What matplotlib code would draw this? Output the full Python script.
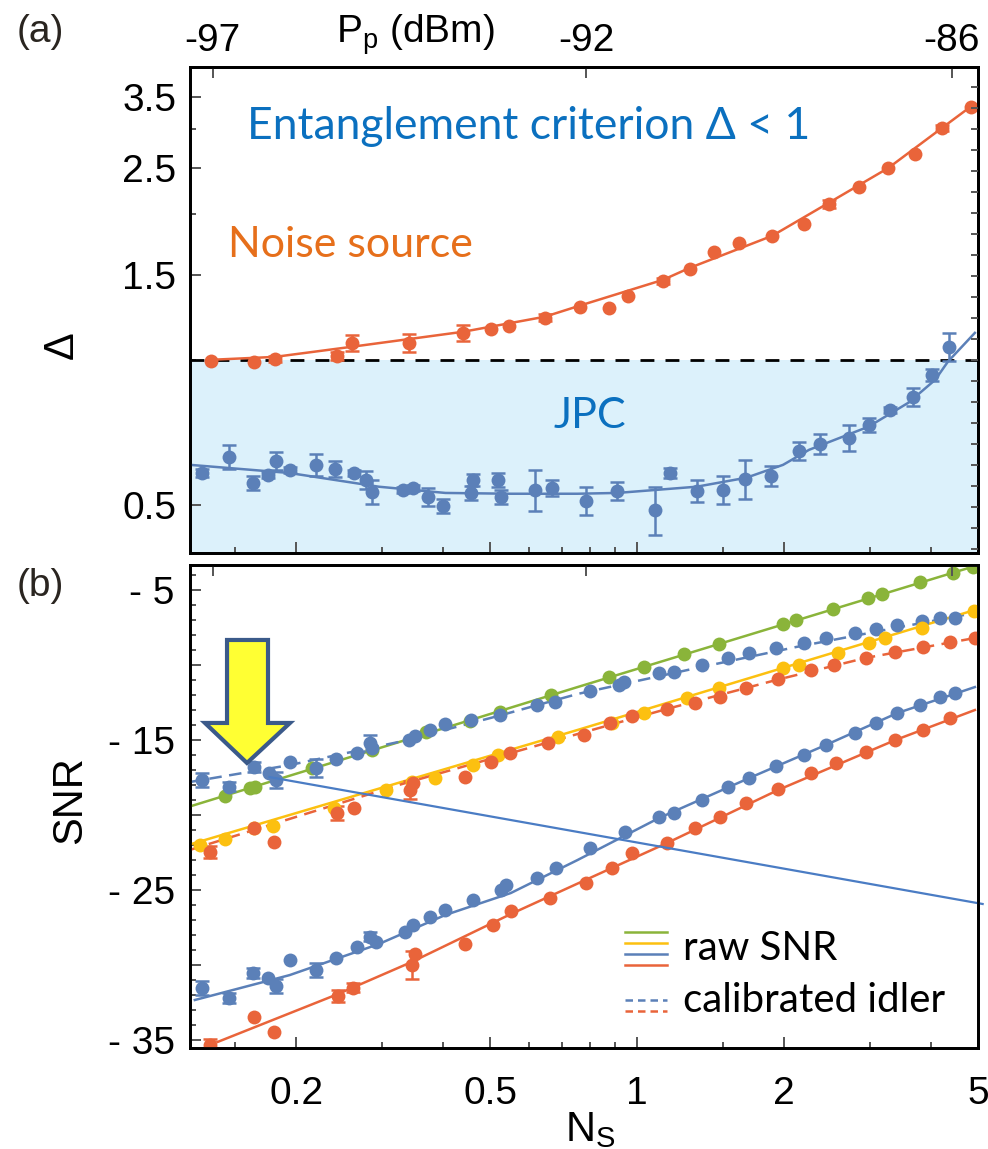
import numpy as np
import matplotlib
matplotlib.use('Agg')
import matplotlib.pyplot as plt
from matplotlib.patches import Polygon
from matplotlib.ticker import FixedLocator, NullFormatter, NullLocator, MultipleLocator, FuncFormatter

# ---------------- panel (a): Delta vs N_S ----------------
noise_ns = [0.134, 0.164, 0.181, 0.243, 0.260, 0.340, 0.440, 0.502, 0.546, 0.647, 0.765, 0.877, 0.959,
            1.130, 1.282, 1.435, 1.621, 1.892, 2.198, 2.472, 2.846, 3.276, 3.718, 4.220, 4.834]
noise_delta = [0.995, 0.990, 1.005, 1.019, 1.084, 1.084, 1.137, 1.159, 1.176, 1.222, 1.287, 1.281, 1.357,
               1.457, 1.543, 1.673, 1.747, 1.806, 1.912, 2.104, 2.281, 2.498, 2.670, 3.022, 3.341]
noise_err = [0, 0, 0.015, 0.02, 0.042, 0.047, 0.044, 0, 0, 0.02, 0, 0, 0,
             0.02, 0, 0, 0, 0, 0, 0.04, 0, 0, 0, 0.04, 0]
noise_fit_ns = [0.134, 0.181, 0.260, 0.440, 0.647, 0.773, 1.130, 1.282, 1.892, 2.472, 3.276, 4.220, 4.880]
noise_fit_delta = [1.000, 1.014, 1.064, 1.143, 1.228, 1.300, 1.464, 1.550, 1.806, 2.114, 2.497, 3.022, 3.370]

jpc_ns = [0.128, 0.146, 0.163, 0.175, 0.182, 0.194, 0.220, 0.240, 0.263, 0.278, 0.286, 0.332, 0.348,
          0.372, 0.401, 0.457, 0.461, 0.519, 0.526, 0.617, 0.668, 0.784, 0.911, 1.088, 1.167, 1.325,
          1.497, 1.667, 1.884, 2.148, 2.370, 2.716, 2.982, 3.306, 3.683, 4.027, 4.361]
jpc_delta = [0.583, 0.630, 0.556, 0.578, 0.618, 0.592, 0.606, 0.595, 0.583, 0.565, 0.533, 0.538, 0.543,
             0.520, 0.499, 0.530, 0.565, 0.565, 0.520, 0.538, 0.543, 0.511, 0.536, 0.489, 0.583, 0.536,
             0.538, 0.567, 0.575, 0.648, 0.670, 0.690, 0.734, 0.788, 0.838, 0.931, 1.064]
jpc_err = [0.011, 0.036, 0.019, 0.008, 0.027, 0.009, 0.032, 0.023, 0.008, 0.024, 0.031, 0.008, 0.008,
           0.022, 0.017, 0.018, 0.016, 0.019, 0.017, 0.052, 0.021, 0.034, 0.023, 0.056, 0.014, 0.028,
           0.036, 0.052, 0.028, 0.028, 0.032, 0.043, 0.025, 0.011, 0.036, 0.027, 0.072]
jpc_fit_ns = [0.1212, 0.1937, 0.2955, 0.4047, 0.5511, 0.7548, 0.9105, 1.325, 1.676, 1.992, 2.252,
              2.982, 3.600, 4.085, 4.337, 4.926]
jpc_fit_delta = [0.606, 0.583, 0.546, 0.530, 0.528, 0.528, 0.530, 0.546, 0.570, 0.606, 0.651,
                 0.727, 0.815, 0.909, 0.991, 1.137]

pump_ticks_ns = [0.135, 0.787, 4.42]
pump_labels = ['-97', '-92', '-86']

# ---------------- panel (b): SNR vs N_S ----------------
green_ns = [0.143, 0.161, 0.165, 0.216, 0.286, 0.370, 0.455, 0.524, 0.665, 0.877, 1.033, 1.247, 1.469,
            1.992, 2.118, 2.519, 2.968, 3.184, 3.806, 4.443, 4.880]
green_snr = [-18.73, -18.20, -18.13, -16.87, -15.67, -14.47, -13.73, -13.13, -12.00, -10.80, -10.13,
             -9.27, -8.60, -7.27, -7.00, -6.27, -5.53, -5.27, -4.47, -3.87, -3.47]
green_err = [0] * len(green_ns)
green_fit_ns = [0.120, 0.755, 4.93]
green_fit_snr = [-19.47, -11.47, -3.40]

calhi_ns = [0.128, 0.146, 0.164, 0.176, 0.182, 0.194, 0.220, 0.2415, 0.2665, 0.283, 0.286, 0.340, 0.351,
            0.377, 0.404, 0.457, 0.524, 0.623, 0.678, 0.799, 0.919, 0.941, 1.109, 1.190, 1.356, 1.539,
            1.699, 1.928, 2.198, 2.438, 2.793, 3.082, 3.417, 3.842, 4.180, 4.485]
calhi_snr = [-17.67, -18.13, -16.80, -17.20, -17.67, -16.47, -16.87, -16.27, -15.87, -15.20, -15.53,
             -15.00, -14.73, -14.33, -13.93, -13.67, -13.33, -12.67, -12.47, -11.73, -11.33, -11.13,
             -10.53, -10.47, -10.00, -9.53, -9.20, -8.87, -8.53, -8.20, -7.87, -7.60, -7.33, -7.07,
             -6.87, -6.87]
calhi_err = [0.45, 0.3, 0.35, 0, 0.55, 0, 0.6, 0, 0, 0.55, 0, 0, 0,
             0, 0, 0, 0, 0, 0, 0, 0, 0, 0, 0, 0, 0,
             0, 0, 0, 0, 0, 0, 0, 0, 0, 0]
calhi_fit_ns = [0.121, 0.194, 0.3245, 0.5187, 0.755, 1.325, 2.118, 3.385, 4.926]
calhi_fit_snr = [-17.80, -16.67, -15.13, -13.40, -11.93, -10.20, -8.80, -7.53, -6.53]

yellow_ns = [0.127, 0.143, 0.164, 0.179, 0.239, 0.305, 0.345, 0.386, 0.461, 0.519, 0.687, 0.889, 1.033,
             1.264, 1.469, 1.992, 2.148, 2.579, 2.982, 3.229, 3.842, 4.900]
yellow_snr = [-22.00, -21.60, -20.87, -20.73, -19.53, -18.33, -17.80, -17.53, -16.67, -16.00, -14.80,
              -13.87, -13.20, -12.20, -11.53, -10.20, -10.00, -9.20, -8.53, -8.20, -7.53, -6.40]
yellow_err = [0] * len(yellow_ns)
yellow_fit_ns = [0.120, 0.755, 4.926]
yellow_fit_snr = [-22.00, -14.33, -6.33]

callo_ns = [0.133, 0.164, 0.1805, 0.243, 0.263, 0.343, 0.348, 0.444, 0.502, 0.549, 0.656, 0.780, 0.881,
            0.977, 1.151, 1.313, 1.476, 1.675, 1.946, 2.272, 2.531, 2.940, 3.385, 3.860, 4.381, 4.926]
callo_snr = [-22.47, -20.87, -21.80, -19.87, -19.53, -18.33, -17.87, -17.47, -16.47, -15.87, -15.20,
             -14.67, -13.87, -13.40, -12.93, -12.53, -12.13, -11.53, -10.93, -10.33, -10.00, -9.53,
             -9.13, -8.80, -8.47, -8.20]
callo_err = [0.4, 0, 0, 0.45, 0, 0.6, 0, 0, 0, 0, 0, 0, 0,
             0, 0, 0, 0, 0, 0, 0, 0, 0, 0, 0, 0, 0]
callo_fit_ns = [0.121, 0.3245, 0.755, 1.151, 1.928, 2.94, 4.926]
callo_fit_snr = [-22.33, -18.00, -14.60, -12.93, -11.00, -9.53, -8.20]

bluelo_ns = [0.128, 0.146, 0.163, 0.175, 0.182, 0.194, 0.220, 0.2415, 0.2665, 0.283, 0.291, 0.335, 0.348,
             0.377, 0.404, 0.461, 0.526, 0.5385, 0.623, 0.681, 0.799, 0.945, 1.109, 1.190, 1.356, 1.539,
             1.699, 1.928, 2.198, 2.438, 2.793, 3.096, 3.417, 3.806, 4.180, 4.485]
bluelo_snr = [-31.53, -32.20, -30.53, -30.87, -31.40, -29.67, -30.33, -29.53, -28.80, -28.13, -28.47,
              -27.80, -27.33, -26.80, -26.33, -25.67, -25.00, -24.67, -24.20, -23.53, -22.20, -21.13,
              -20.13, -19.87, -19.00, -18.13, -17.53, -16.73, -16.00, -15.33, -14.53, -13.87, -13.20,
              -12.67, -12.13, -11.87]
bluelo_err = [0.45, 0.35, 0.35, 0, 0.45, 0, 0.45, 0, 0, 0.3, 0, 0, 0,
              0, 0, 0, 0, 0, 0, 0, 0, 0, 0, 0, 0, 0,
              0, 0, 0, 0, 0, 0, 0, 0, 0, 0]
bluelo_fit_ns = [0.124, 0.194, 0.2955, 0.404, 0.551, 0.755, 1.109, 1.699, 2.438, 3.417, 4.926]
bluelo_fit_snr = [-32.33, -30.67, -28.60, -26.67, -25.20, -23.00, -20.20, -17.53, -15.33, -13.20, -11.47]

orlo_ns = [0.133, 0.164, 0.1805, 0.244, 0.2615, 0.345, 0.350, 0.444, 0.507, 0.551, 0.662, 0.784, 0.889,
           0.977, 1.151, 1.313, 1.476, 1.675, 1.946, 2.272, 2.555, 2.940, 3.385, 3.860, 4.381]
orlo_snr = [-35.33, -33.47, -34.47, -32.07, -31.53, -30.00, -29.27, -28.60, -27.33, -26.40, -25.53,
            -24.53, -23.53, -22.53, -21.87, -20.87, -20.13, -19.20, -18.27, -17.20, -16.53, -15.80,
            -15.00, -14.33, -13.53]
orlo_err = [0.4, 0, 0, 0.4, 0.3, 0.95, 0, 0, 0, 0, 0, 0, 0,
            0, 0, 0, 0, 0, 0, 0, 0, 0, 0, 0, 0]
orlo_fit_ns = [0.138, 0.2438, 0.3449, 0.5511, 0.7837, 1.151, 1.946, 3.385, 4.926]
orlo_fit_snr = [-35.13, -31.93, -29.80, -26.60, -24.33, -21.87, -18.33, -15.00, -13.00]

cross_ns = [0.1764, 5.11]
cross_snr = [-17.47, -25.93]

ORANGE = '#E9643A'
BLUE = '#5B80B8'
GREEN = '#8AB43A'
YELLOW = '#FCC010'
LINE_BLUE = '#4A7CC4'
TXT_BLUE = '#0B70BF'
TXT_ORANGE = '#E66F1B'
SHADE = '#DCF1FB'
TICK = '#555555'

plt.rcParams['font.family'] = ['Liberation Sans', 'DejaVu Sans']
plt.rcParams['mathtext.default'] = 'regular'

XMIN, XMAX = 0.1212, 5.0
major_x = [0.2, 0.5, 1, 2, 5]
minor_x = [0.15, 0.3, 0.4, 0.6, 0.7, 0.8, 0.9, 1.5, 3, 4]


def style_x(ax, labels):
    ax.set_xscale('log')
    ax.set_xlim(XMIN, XMAX)
    ax.xaxis.set_major_locator(FixedLocator(major_x))
    ax.xaxis.set_minor_locator(FixedLocator(minor_x))
    ax.xaxis.set_minor_formatter(NullFormatter())
    if labels:
        ax.set_xticklabels(['0.2', '0.5', '1', '2', '5'])
    else:
        ax.xaxis.set_major_formatter(NullFormatter())
    ax.tick_params(which='both', direction='in', color=TICK, width=1.4, labelsize=28,
                   top=False, right=False, pad=20)
    ax.tick_params(which='major', length=8)
    ax.tick_params(which='minor', length=4)
    for s in ax.spines.values():
        s.set_linewidth(2.0)


def pump_axis(ax, labels):
    t = ax.twiny()
    t.set_xscale('log')
    t.set_xlim(XMIN, XMAX)
    t.xaxis.set_major_locator(FixedLocator(pump_ticks_ns))
    t.xaxis.set_minor_locator(NullLocator())
    if labels:
        t.set_xticklabels(pump_labels)
    else:
        t.xaxis.set_major_formatter(NullFormatter())
    t.tick_params(direction='in', color=TICK, width=1.4, length=8, labelsize=28, pad=6)
    for s in t.spines.values():
        s.set_linewidth(2.0)
    return t


def series(ax, ns, vals, err, fit_ns, fit_vals, color, ls='-'):
    ns, vals, err = np.array(ns), np.array(vals), np.array(err)
    m = err > 0
    ax.errorbar(ns[m], vals[m], yerr=err[m], fmt='none', ecolor=color, elinewidth=1.8,
                capsize=5, capthick=1.8, zorder=3)
    ax.plot(ns, vals, 'o', color=color, ms=10, mec='none', zorder=4)
    ax.plot(fit_ns, fit_vals, color=color, lw=1.8, ls=ls, zorder=3)


fig = plt.figure(figsize=(9.88, 11.49), dpi=100)
ax1 = fig.add_axes([0.1923, 0.5187, 0.7976, 0.4230])
ax2 = fig.add_axes([0.1923, 0.0879, 0.7976, 0.4204])

# ---- (a)
ax1.set_yscale('log')
ax1.axhspan(0.01, 1.0, color=SHADE, zorder=0, lw=0)
ax1.axhline(1.0, color='black', lw=2, ls=(0, (5, 4)), zorder=2)
series(ax1, noise_ns, noise_delta, noise_err, noise_fit_ns, noise_fit_delta, ORANGE)
series(ax1, jpc_ns, jpc_delta, jpc_err, jpc_fit_ns, jpc_fit_delta, BLUE)
style_x(ax1, False)
ax1.set_ylim(0.398, 4.04)
ax1.yaxis.set_major_locator(FixedLocator([0.5, 1.5, 2.5, 3.5]))
ax1.yaxis.set_minor_locator(FixedLocator([1, 2, 3]))
ax1.yaxis.set_major_formatter(FuncFormatter(lambda v, p: f'{v:.1f}'))
ax1.yaxis.set_minor_formatter(NullFormatter())
ax1.tick_params(axis='y', pad=10)
pump_axis(ax1, True)
axr = ax1.twinx()
axr.set_ylim(-9.19, 13.95)
axr.yaxis.set_major_locator(MultipleLocator(1))
axr.yaxis.set_major_formatter(NullFormatter())
axr.tick_params(direction='in', color=TICK, width=1.4, length=5)

ax1.text(0.0723, 0.878, 'Entanglement criterion Δ < 1', transform=ax1.transAxes, color=TXT_BLUE,
         fontsize=32, family='Lato', ha='left', va='center')
ax1.text(0.0482, 0.634, 'Noise source', transform=ax1.transAxes, color=TXT_ORANGE,
         fontsize=31, family='Lato', ha='left', va='center')
ax1.text(0.461, 0.282, 'JPC', transform=ax1.transAxes, color=TXT_BLUE,
         fontsize=31, family='Lato', ha='left', va='center')

# ---- (b)
series(ax2, green_ns, green_snr, green_err, green_fit_ns, green_fit_snr, GREEN)
series(ax2, calhi_ns, calhi_snr, calhi_err, calhi_fit_ns, calhi_fit_snr, BLUE, ls=(0, (5, 3)))
series(ax2, yellow_ns, yellow_snr, yellow_err, yellow_fit_ns, yellow_fit_snr, YELLOW)
series(ax2, callo_ns, callo_snr, callo_err, callo_fit_ns, callo_fit_snr, ORANGE, ls=(0, (5, 3)))
series(ax2, bluelo_ns, bluelo_snr, bluelo_err, bluelo_fit_ns, bluelo_fit_snr, BLUE)
series(ax2, orlo_ns, orlo_snr, orlo_err, orlo_fit_ns, orlo_fit_snr, ORANGE)
ax2.plot(cross_ns, cross_snr, color=LINE_BLUE, lw=1.6, clip_on=False, zorder=5)
style_x(ax2, True)
ax2.set_ylim(-35.53, -3.33)
ax2.yaxis.set_major_locator(MultipleLocator(5))
ax2.yaxis.set_minor_locator(MultipleLocator(1))
ax2.yaxis.set_major_formatter(FuncFormatter(lambda v, p: f'- {abs(int(round(v)))}' if int(round(v)) % 10 == 5 else ''))
ax2.tick_params(axis='y', pad=11)
pump_axis(ax2, False)

# yellow arrow
arrow = Polygon([(0.0470, 0.8447), (0.0990, 0.8447), (0.0990, 0.6729), (0.1269, 0.6729),
                 (0.0723, 0.5901), (0.0190, 0.6729), (0.0470, 0.6729)], closed=True,
                transform=ax2.transAxes, facecolor='#FFFF33', edgecolor='#3B5A8A', lw=3, zorder=6)
ax2.add_patch(arrow)

# legend
raw_cols = [GREEN, YELLOW, BLUE, ORANGE]
for i, c in enumerate(raw_cols):
    ax2.plot([0.552, 0.605], [0.240 - 0.0228 * i] * 2, color=c, lw=1.8, transform=ax2.transAxes)
for i, c in enumerate([BLUE, ORANGE]):
    ax2.plot([0.552, 0.605], [0.0994 - 0.0228 * i] * 2, color=c, lw=1.8, ls=(0, (3, 2)),
             transform=ax2.transAxes)
ax2.text(0.6256, 0.205, 'raw SNR', transform=ax2.transAxes, fontsize=29, family='Lato',
         ha='left', va='center')
ax2.text(0.6256, 0.098, 'calibrated idler', transform=ax2.transAxes, fontsize=29, family='Lato',
         ha='left', va='center')

# labels
fig.text(40 / 988, 1 - 32 / 1149, '(a)', fontsize=28, ha='center', va='center', color='#2a2520')
fig.text(40 / 988, 1 - 586 / 1149, '(b)', fontsize=28, ha='center', va='center', color='#2a2520')
fig.text(415 / 988, 1 - 43 / 1149, 'P$_p$ (dBm)', fontsize=28, ha='center', va='baseline')
fig.text(62 / 988, 1 - 345 / 1149, 'Δ', fontsize=30, ha='center', va='center', rotation=90)
fig.text(70 / 988, 1 - 800 / 1149, 'SNR', fontsize=30, ha='center', va='center', rotation=90)
fig.text(590 / 988, 1 - 1130 / 1149, 'N$_S$', fontsize=30, ha='center', va='center')

fig.savefig('out.png', dpi=100)
